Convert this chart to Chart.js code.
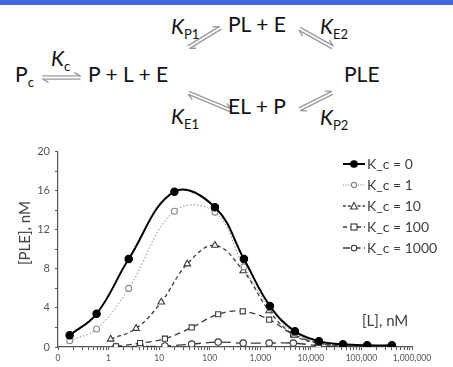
<!DOCTYPE html>
<html>
<head>
<meta charset="utf-8">
<script src="https://cdn.jsdelivr.net/npm/chart.js@4.4.1/dist/chart.umd.min.js"></script>
<style>
  html, body { margin: 0; padding: 0; background: #fff; }
  #wrap { position: relative; width: 453px; height: 367px; overflow: hidden; background: #fff; font-family: Lato, 'Open Sans', sans-serif; border-top: 5px solid #4468dc; box-sizing: border-box; }
  .sch { position: absolute; font-size: 21px; line-height: 21px; color: #111; white-space: pre; }
  .sch sub { font-size: 13px; vertical-align: -5px; line-height: 0; }
  .sch i { font-style: italic; }
  #arrows { position: absolute; left: 0; top: -5px; }
  #chartBox { position: absolute; left: 0; top: 135px; width: 453px; height: 227px; }
  #ytitle { position: absolute; left: 24px; top: 228px; transform: translate(-50%, -50%) rotate(-90deg); font-size: 15px; color: #404040; white-space: nowrap; }
  #xtitle { position: absolute; left: 362px; top: 306px; font-size: 15px; color: #404040; white-space: nowrap; }
  #legend { position: absolute; left: 342px; top: 148px; }
  .lg-row { display: flex; align-items: center; height: 21px; }
  .lg-row span { font-size: 14px; color: #404040; margin-left: 1px; white-space: pre; }
</style>
</head>
<body>
<div id="wrap">
  <svg id="arrows" width="453" height="135"></svg>

  <div class="sch" style="left:15px; top:58px;">P<sub>c</sub></div>
  <div class="sch" style="left:51px; top:42px;"><i>K</i><sub>c</sub></div>
  <div class="sch" style="left:88px; top:58px;">P + L + E</div>
  <div class="sch" style="left:228px; top:8px;">PL + E</div>
  <div class="sch" style="left:344px; top:58px;">PLE</div>
  <div class="sch" style="left:228px; top:90px;">EL + P</div>
  <div class="sch" style="left:171px; top:10px;"><i>K</i><sub>P1</sub></div>
  <div class="sch" style="left:320px; top:10px;"><i>K</i><sub>E2</sub></div>
  <div class="sch" style="left:171px; top:100px;"><i>K</i><sub>E1</sub></div>
  <div class="sch" style="left:320px; top:101px;"><i>K</i><sub>P2</sub></div>

  <div id="chartBox"><canvas id="chart"></canvas></div>
  <div id="ytitle">[PLE], nM</div>
  <div id="xtitle">[L], nM</div>
  <div id="legend"></div>
</div>

<script>
// ---- data ----
const seriesNames = ['K_c = 0', 'K_c = 1', 'K_c = 10', 'K_c = 100', 'K_c = 1000'];

const k0X = [0.17, 0.58, 2.5, 20, 127, 475, 1550, 4850, 14500, 43000, 130000, 400000];
const k0Y = [1.2, 3.4, 9.0, 15.9, 14.3, 9.0, 4.2, 1.6, 0.6, 0.27, 0.17, 0.17];

const k1X = [0.17, 0.58, 2.5, 20, 127, 475, 1550, 4850, 14500, 43000, 130000, 400000];
const k1Y = [0.65, 1.85, 6.0, 13.9, 13.8, 8.2, 4.0, 1.4, 0.5, 0.2, 0.1, 0.1];

const k10X = [1.1, 3.5, 11, 36, 127, 460, 1500, 4700, 14000, 43000, 130000, 400000];
const k10Y = [0.8, 1.9, 4.6, 8.5, 10.4, 7.8, 3.7, 1.2, 0.4, 0.15, 0.1, 0.1];

const k100X = [1.4, 4.2, 13, 44, 147, 450, 1500, 4450, 13800, 43000, 130000, 400000];
const k100Y = [0.07, 0.4, 0.85, 2.0, 3.35, 3.65, 2.8, 1.3, 0.45, 0.15, 0.05, 0.05];

const k1000X = [1.4, 4.2, 13, 44, 147, 460, 1500, 4500, 14000, 43000, 130000, 400000];
const k1000Y = [0.0, 0.05, 0.1, 0.3, 0.5, 0.4, 0.4, 0.4, 0.15, 0.05, 0.02, 0.02];

const xMajorTicks = [0.1, 1, 10, 100, 1000, 10000, 100000, 1000000];
const xTickLabels = ['0', '1', '10', '100', '1,000', '10,000', '100,000', '1,000,000'];
const yTicks = [0, 4, 8, 12, 16, 20];

// ---- styles ----
const styles = [
  { color: '#000000', width: 2,   dash: [],       point: 'circle',   radius: 3.7, fill: '#000000' },
  { color: '#8a8a8a', width: 1,   dash: [1.5, 2], point: 'circle',   radius: 3,   fill: '#ffffff' },
  { color: '#3a3a3a', width: 1.3, dash: [4, 3],   point: 'triangle', radius: 3.8, fill: '#ffffff' },
  { color: '#3a3a3a', width: 1.3, dash: [6, 4],   point: 'rect',     radius: 3.6, fill: '#ffffff' },
  { color: '#3a3a3a', width: 1.3, dash: [10, 5],  point: 'circle',   radius: 3.2, fill: '#ffffff' }
];
const xs = [k0X, k1X, k10X, k100X, k1000X];
const ys = [k0Y, k1Y, k10Y, k100Y, k1000Y];

// minor tick marks between decades
const xAllTicks = [];
xMajorTicks.forEach((v, i) => {
  xAllTicks.push(v);
  if (i < xMajorTicks.length - 1) {
    for (let m = 2; m <= 9; m++) xAllTicks.push(v * m);
  }
});

const datasets = seriesNames.map((name, i) => {
  const s = styles[i];
  return {
    label: name,
    data: xs[i].map((x, j) => ({ x: x, y: ys[i][j] })),
    borderColor: s.color,
    borderWidth: s.width,
    borderDash: s.dash,
    pointStyle: s.point,
    pointRadius: s.radius,
    pointBackgroundColor: s.fill,
    pointBorderColor: s.color,
    pointBorderWidth: 1.1,
    tension: 0.4,
    fill: false
  };
});

new Chart(document.getElementById('chart'), {
  type: 'line',
  data: { datasets: datasets },
  options: {
    responsive: true,
    maintainAspectRatio: false,
    animation: false,
    layout: { padding: { top: 10, right: 41, left: 0, bottom: 0 } },
    plugins: { legend: { display: false }, tooltip: { enabled: false } },
    scales: {
      x: {
        type: 'logarithmic',
        min: 0.1,
        max: 1000000,
        afterBuildTicks: (scale) => { scale.ticks = xAllTicks.map(v => ({ value: v })); },
        afterFit: (scale) => { scale.height = 20; },
        border: { color: '#555', width: 1.2 },
        grid: { drawOnChartArea: false, drawTicks: true, tickLength: 3, color: '#555' },
        ticks: {
          autoSkip: false,
          maxRotation: 0,
          padding: 3,
          color: '#555',
          font: { family: 'Lato', size: 8.5 },
          callback: (v) => {
            const k = xMajorTicks.indexOf(v);
            return k >= 0 ? xTickLabels[k] : '';
          }
        }
      },
      y: {
        min: 0,
        max: 20,
        afterFit: (scale) => { scale.width = 58; },
        border: { color: '#555', width: 1.2 },
        grid: { drawOnChartArea: false, drawTicks: true, tickLength: 3, color: '#555' },
        ticks: {
          stepSize: 2,
          padding: 5,
          color: '#555',
          font: { family: 'Lato', size: 11 },
          callback: (v) => yTicks.includes(v) ? String(v) : ''
        }
      }
    }
  }
});

// ---- legend ----
const legend = document.getElementById('legend');
const ns = 'http://www.w3.org/2000/svg';
seriesNames.forEach((name, i) => {
  const s = styles[i];
  const row = document.createElement('div');
  row.className = 'lg-row';
  const svg = document.createElementNS(ns, 'svg');
  svg.setAttribute('width', '24');
  svg.setAttribute('height', '12');
  const ln = document.createElementNS(ns, 'line');
  ln.setAttribute('x1', '1'); ln.setAttribute('y1', '6');
  ln.setAttribute('x2', '23'); ln.setAttribute('y2', '6');
  ln.setAttribute('stroke', s.color);
  ln.setAttribute('stroke-width', s.width);
  if (s.dash.length) ln.setAttribute('stroke-dasharray', s.dash.map(d => d * 0.7).join(' '));
  svg.appendChild(ln);
  let mk;
  if (s.point === 'circle') {
    mk = document.createElementNS(ns, 'circle');
    mk.setAttribute('cx', '12'); mk.setAttribute('cy', '6'); mk.setAttribute('r', s.radius - 0.4);
  } else if (s.point === 'rect') {
    mk = document.createElementNS(ns, 'rect');
    mk.setAttribute('x', '9'); mk.setAttribute('y', '3'); mk.setAttribute('width', '6'); mk.setAttribute('height', '6');
  } else {
    mk = document.createElementNS(ns, 'polygon');
    mk.setAttribute('points', '12,2.5 15.5,9 8.5,9');
  }
  mk.setAttribute('fill', s.fill);
  mk.setAttribute('stroke', s.color);
  mk.setAttribute('stroke-width', '1.1');
  svg.appendChild(mk);
  row.appendChild(svg);
  const t = document.createElement('span');
  t.textContent = name;
  row.appendChild(t);
  legend.appendChild(row);
});

// ---- equilibrium arrows of the scheme ----
const arrowSvg = document.getElementById('arrows');
function harpoon(x1, y1, x2, y2) {
  const len = Math.hypot(x2 - x1, y2 - y1);
  const ux = (x2 - x1) / len, uy = (y2 - y1) / len;
  const nx = uy, ny = -ux;
  const off = 1.6, barb = 5;
  const segs = [
    [x1 + nx * off, y1 + ny * off, x2 + nx * off, y2 + ny * off],
    [x2 + nx * off, y2 + ny * off, x2 + nx * off - ux * barb + nx * 3, y2 + ny * off - uy * barb + ny * 3],
    [x1 - nx * off, y1 - ny * off, x2 - nx * off, y2 - ny * off],
    [x1 - nx * off, y1 - ny * off, x1 - nx * off + ux * barb - nx * 3, y1 - ny * off + uy * barb - ny * 3]
  ];
  segs.forEach(p => {
    const l = document.createElementNS(ns, 'line');
    l.setAttribute('x1', p[0]); l.setAttribute('y1', p[1]);
    l.setAttribute('x2', p[2]); l.setAttribute('y2', p[3]);
    l.setAttribute('stroke', '#9a9a9a');
    l.setAttribute('stroke-width', '1.4');
    l.setAttribute('stroke-linecap', 'round');
    arrowSvg.appendChild(l);
  });
}
harpoon(43, 77.5, 80, 77.5);
harpoon(189, 47, 220, 28);
harpoon(300, 29, 332, 47);
harpoon(189, 93, 230, 110);
harpoon(300, 109, 332, 93);
</script>
</body>
</html>
